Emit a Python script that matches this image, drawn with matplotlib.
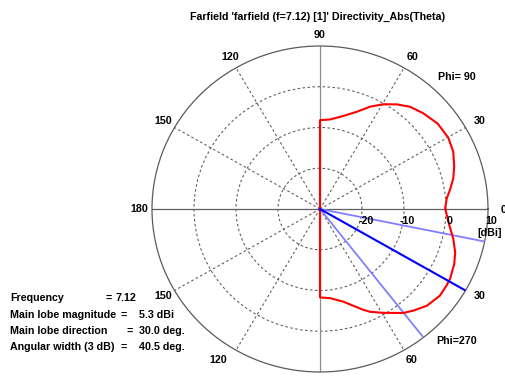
import numpy as np
import matplotlib
matplotlib.use("Agg")
import matplotlib.pyplot as plt

# ---------------- data ----------------
title = "Farfield 'farfield (f=7.12) [1]' Directivity_Abs(Theta)"
# plot angle (deg, counter-clockwise from right) and directivity (dBi)
angle_deg = [90, 83.8, 76.3, 69.9, 64.6, 59.6, 54.6, 49.5, 43.7, 36.7, 29.8,
             23.9, 18.0, 13.3, 8.6, 5.0, 0.3, -7.6, -13.1, -18.3, -22.9,
             -29.0, -31.9, -36.7, -43.0, -48.3, -52.2, -59.4, -64.7, -67.4,
             -76.3, -83.8, -90]
directivity = [-8.2, -7.9, -6.5, -4.6, -2.2, -0.2, 1.5, 3.0, 4.0, 5.0, 5.2,
               4.7, 3.6, 2.6, 1.3, 0.3, -0.2, 1.1, 2.6, 3.9, 4.7,
               5.4, 5.5, 5.6, 4.8, 3.4, 2.3, -0.4, -2.1, -3.2,
               -6.6, -8.0, -8.3]
r_min, r_max = -30, 10
ring_values = [-20, -10, 0]
ring_labels = ["-20", "-10", "0", "10"]
main_lobe_dir = 30.0          # deg (phi=270 side, drawn below horizontal)
beam_edges = [11.5, 52.0]     # 3 dB edges as drawn
info_labels = ["Frequency", "Main lobe magnitude", "Main lobe direction", "Angular width (3 dB)"]
info_values = ["7.12", "5.3 dBi", "30.0 deg.", "40.5 deg."]
angle_labels = ["90", "60", "30", "0", "120", "150", "180", "150", "120", "60", "30"]

# ---------------- figure ----------------
W, H = 506, 377
fig = plt.figure(figsize=(W / 100, H / 100), dpi=100)
fig.patch.set_facecolor("white")

def px(x, y):
    return x / W, 1 - y / H

FONT = ["Liberation Sans", "DejaVu Sans"]
FS = 7.7

# axes box: center (320,209), rx=168, ry=163
left, right, top, bottom = 152, 488, 46, 372
ax = fig.add_axes([left / W, 1 - bottom / H, (right - left) / W, (bottom - top) / H],
                  projection="polar")
ax.set_aspect("auto")
ax.set_rlim(r_min, r_max)
ax.set_theta_zero_location("E")
ax.set_theta_direction(1)
ax.set_facecolor("none")

dash = (0, (2.4, 2.4))
ax.set_rgrids(ring_values, labels=[""] * len(ring_values))
ax.set_thetagrids([30, 60, 120, 150, 210, 240, 300, 330], labels=[""] * 8)
ax.grid(True, color="#555555", linestyle=dash, linewidth=0.75)
ax.spines["polar"].set_color("#5a5a5a")
ax.spines["polar"].set_linewidth(0.9)
ax.tick_params(axis="both", length=0, labelsize=0)

# main axes lines
for a, c in [(0, "#5f5f5f"), (180, "#5f5f5f"), (90, "#8a8a8a"), (270, "#8a8a8a")]:
    ax.plot([np.deg2rad(a)] * 2, [r_min, r_max], color=c, lw=0.9, zorder=2)

# 3 dB beam edges
for b in beam_edges:
    ax.plot([np.deg2rad(-b)] * 2, [r_min, r_max], color="#8080ff", lw=1.3, zorder=3)

# pattern (closed through the centre where values fall below range)
th = np.deg2rad([90] + angle_deg + [-90])
rr = [r_min] + directivity + [r_min]
ax.plot(th, rr, color="#ff0000", lw=1.5, zorder=4)

# main lobe
ax.plot([np.deg2rad(-main_lobe_dir)] * 2, [r_min, r_max], color="#0000ff", lw=1.5, zorder=5)
ax.set_rlim(r_min, r_max)

txt = dict(family=FONT, fontsize=FS, fontweight="bold", color="black")

# title
fig.text(*px(318, 17), title, ha="center", va="center", **txt)

# angle labels
label_pos = [(320, 35), (413, 57), (480, 121), (501, 210), (230, 57), (163, 121),
             (139, 209), (163, 296), (218, 360), (412, 360), (480, 296)]
for s, (x, y) in zip(angle_labels, label_pos):
    ha = "left" if s == "0" else "center"
    fig.text(*px(x, y), s, ha=ha, va="center", **txt)

# radial labels
for s, x in zip(ring_labels, [366, 407, 450, 491]):
    fig.text(*px(x, 221), s, ha="center", va="center", **txt)
fig.text(*px(490, 233), "[dBi]", ha="center", va="center", **txt)

fig.text(*px(457, 77), "Phi= 90", ha="center", va="center", **txt)
fig.text(*px(457, 341), "Phi=270", ha="center", va="center", **txt)

# info block
ys = [298, 315, 331, 347]
eq_x = [106, 121, 127, 121]
for lab, val, y, ex in zip(info_labels, info_values, ys, eq_x):
    fig.text(*px(10, y), lab, ha="left", va="center", **txt)
    fig.text(*px(ex, y), "=", ha="left", va="center", **txt)
    vx = 116 if lab == "Frequency" else 139
    fig.text(*px(vx, y), val, ha="left", va="center", **txt)

fig.savefig("out.png", dpi=100, facecolor="white")
